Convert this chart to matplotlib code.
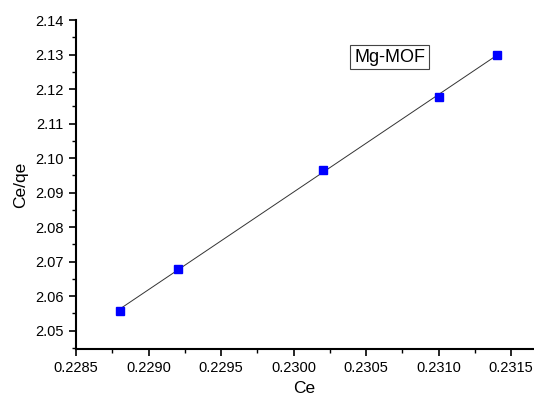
import numpy as np
import matplotlib
matplotlib.use("Agg")
import matplotlib.pyplot as plt
from matplotlib.ticker import MultipleLocator

ce = [0.2288, 0.2292, 0.2302, 0.2310, 0.2314]
ce_qe = [2.0557, 2.0679, 2.0966, 2.1176, 2.1300]
label = "Mg-MOF"

plt.rcParams['font.family'] = ['Liberation Sans', 'DejaVu Sans']

fig = plt.figure(figsize=(5.34, 3.98), dpi=100)
ax = fig.add_axes([76/534, 1-349/398, (533-76)/534, (349-20)/398])

coef = np.polyfit(ce, ce_qe, 1)
xf = np.array([min(ce), max(ce)])
ax.plot(xf, np.polyval(coef, xf), color='#333333', lw=0.7, zorder=2)
ax.plot(ce, ce_qe, linestyle='none', marker='s', color='#0000ff', markersize=5.5, zorder=3)

ax.set_xlim(0.2285, 0.23165)
ax.set_ylim(2.0447, 2.14)
ax.xaxis.set_major_locator(MultipleLocator(0.0005))
ax.xaxis.set_minor_locator(MultipleLocator(0.00025))
ax.yaxis.set_major_locator(MultipleLocator(0.01))
ax.yaxis.set_minor_locator(MultipleLocator(0.005))
ax.xaxis.set_major_formatter(matplotlib.ticker.FormatStrFormatter('%.4f'))
ax.yaxis.set_major_formatter(matplotlib.ticker.FormatStrFormatter('%.2f'))

for s in ['top', 'right']:
    ax.spines[s].set_visible(False)
for s in ['left', 'bottom']:
    ax.spines[s].set_linewidth(1.5)
ax.tick_params(which='major', direction='out', length=5, width=1.2, labelsize=10.5, pad=4)
ax.tick_params(which='minor', direction='out', length=3, width=1.0)

ax.set_xlabel('Ce', fontsize=12.5, labelpad=4)
ax.set_ylabel('Ce/qe', fontsize=12.5, labelpad=5)

ax.text(0.687, 0.8875, label, transform=ax.transAxes, fontsize=13, ha='center', va='center',
        bbox=dict(boxstyle='square,pad=0.22', facecolor='white', edgecolor='#444444', lw=0.8))

fig.savefig('out.png', dpi=100)
